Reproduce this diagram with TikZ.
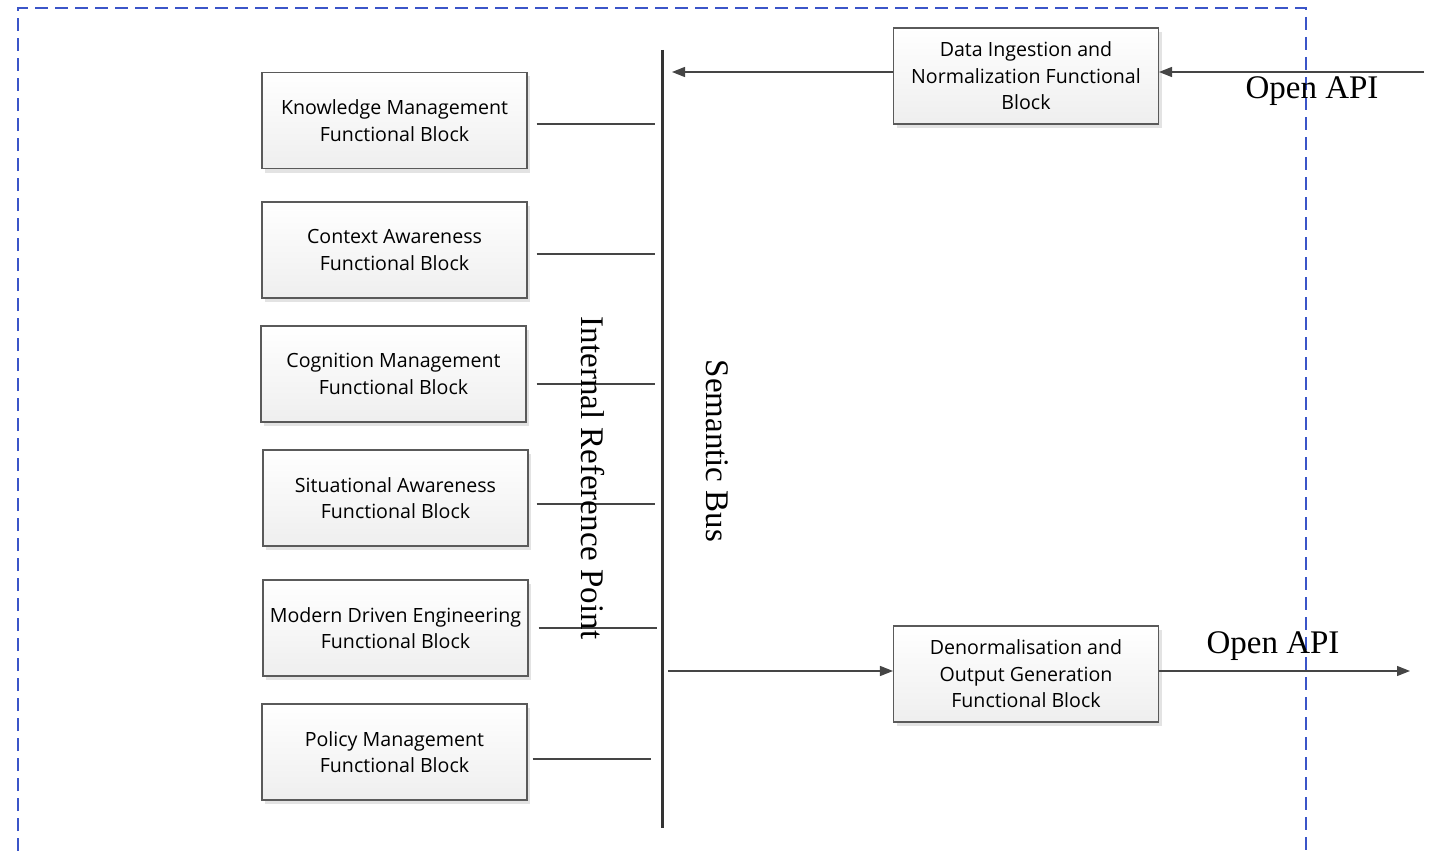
\documentclass[tikz,border=0pt]{standalone}
\usepackage{fontspec}
\setmainfont{Liberation Serif}
\newfontfamily\boxfont{Open Sans}
\usetikzlibrary{arrows.meta,shadows,calc}

\definecolor{frameblue}{HTML}{3B55C8}
\definecolor{lineink}{HTML}{454545}
\definecolor{boxedge}{HTML}{5A5A5A}

\tikzset{
  fblock/.style={draw=boxedge, line width=1.1pt, top color=white, bottom color=gray!13,
    minimum width=265pt, minimum height=96pt, align=center, inner sep=2pt,
    font=\boxfont\fontsize{19.6}{26.5}\selectfont,
    drop shadow={shadow xshift=3pt, shadow yshift=-4pt, fill=black!18, opacity=0.6}},
  link/.style={draw=lineink, line width=2pt},
  busline/.style={draw=black!80, line width=3pt},
  flow/.style={draw=lineink, line width=1.3pt, -{Triangle[length=13pt,width=10pt]}},
  frame/.style={draw=frameblue, line width=1.8pt, dash pattern=on 13pt off 7pt},
  biglabel/.style={font=\fontsize{33}{36}\selectfont, inner sep=0pt}
}

\begin{document}
\begin{tikzpicture}[x=1pt, y=-1pt]
\useasboundingbox (0,0) rectangle (1430,851);

% dashed system frame (open at the bottom)
\draw[frame] (18,851) -- (18,8) -- (1306,8) -- (1306,851);

% semantic bus
\coordinate (bt) at (662,50);
\coordinate (bb) at (662,828);
\draw[busline] (bt) -- (bb);

% functional blocks on the internal reference point
\node[fblock] (km)  at (394.5,120.5) {Knowledge Management\\Functional Block};
\node[fblock] (ca)  at (394.5,250)   {Context Awareness\\Functional Block};
\node[fblock] (cm)  at (393.5,374)   {Cognition Management\\Functional Block};
\node[fblock] (sa)  at (395.5,498)   {Situational Awareness\\Functional Block};
\node[fblock] (mde) at (395.5,628)   {Modern Driven Engineering\\Functional Block};
\node[fblock] (pm)  at (394.5,752)   {Policy Management\\Functional Block};

% block attachments to the bus
\draw[link, shorten <=9pt, shorten >=7pt] (km.east |- 0,124)  -- (bt |- 0,124);
\draw[link, shorten <=9pt, shorten >=7pt] (ca.east |- 0,254)  -- (bt |- 0,254);
\draw[link, shorten <=10pt, shorten >=7pt] (cm.east |- 0,384) -- (bt |- 0,384);
\draw[link, shorten <=8pt, shorten >=7pt] (sa.east |- 0,504)  -- (bt |- 0,504);
\draw[link, shorten <=10pt, shorten >=5pt] (mde.east |- 0,628) -- (bt |- 0,628);
\draw[link, shorten <=5pt, shorten >=11pt] (pm.east |- 0,759) -- (bt |- 0,759);

% rotated labels
\node[biglabel, rotate=-90] (irp) at (593,478) {Internal Reference Point};
\node[biglabel, rotate=-90] (sb)  at (717,451) {Semantic Bus};

% ingestion and output blocks
\node[fblock] (din) at (1026,76)  {Data Ingestion and\\Normalization Functional\\Block};
\node[fblock] (dout) at (1026,674) {Denormalisation and\\Output Generation\\Functional Block};

% open API flows
\coordinate (apiin)  at (1424,72);
\coordinate (apiout) at (1410,671);
\draw[flow] (apiin) -- (din.east |- apiin);
\draw[flow, shorten >=10pt] (din.west |- apiin) -- (bt |- apiin);
\draw[flow, shorten <=6pt] (bt |- apiout) -- (dout.west |- apiout);
\draw[flow] (dout.east |- apiout) -- (apiout);

\node[biglabel] (apil1) at (1312,91)  {Open API};
\node[biglabel] (apil2) at (1273,646) {Open API};
\end{tikzpicture}
\end{document}
